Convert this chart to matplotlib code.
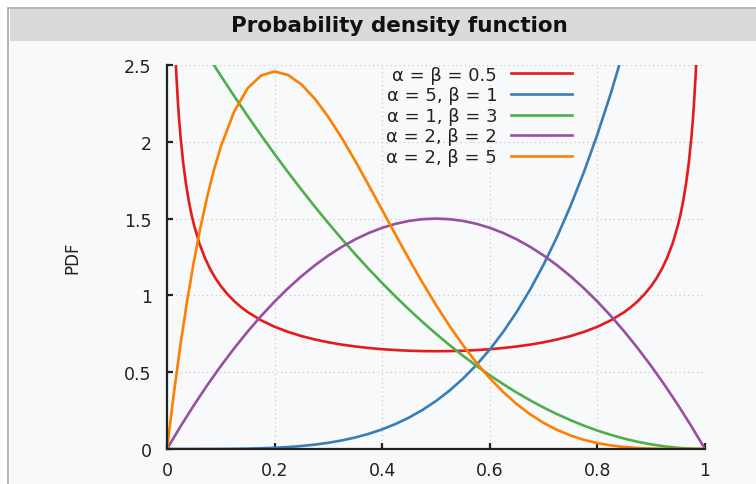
import matplotlib
matplotlib.use("Agg")
import matplotlib.pyplot as plt
from matplotlib.patches import Rectangle

# values (Beta pdf curves)
x_grid = [0, 0.025, 0.05, 0.075, 0.1, 0.125, 0.15, 0.175, 0.2, 0.225, 0.25,
          0.275, 0.3, 0.325, 0.35, 0.375, 0.4, 0.425, 0.45, 0.475, 0.5,
          0.525, 0.55, 0.575, 0.6, 0.625, 0.65, 0.675, 0.7, 0.725, 0.75,
          0.775, 0.8, 0.825, 0.85, 0.875, 0.9, 0.925, 0.95, 0.975, 1]

x_red = [0.015, 0.0175, 0.02, 0.0225, 0.025, 0.03, 0.035, 0.04, 0.045, 0.05,
         0.06, 0.07, 0.08, 0.09, 0.1, 0.1125, 0.125, 0.1375, 0.15, 0.175,
         0.2, 0.225, 0.25, 0.275, 0.3, 0.325, 0.35, 0.375, 0.4, 0.425, 0.45,
         0.475, 0.5, 0.525, 0.55, 0.575, 0.6, 0.625, 0.65, 0.675, 0.7, 0.725,
         0.75, 0.775, 0.8, 0.825, 0.85, 0.8625, 0.875, 0.8875, 0.9, 0.91,
         0.92, 0.93, 0.94, 0.95, 0.955, 0.96, 0.965, 0.97, 0.975, 0.9775,
         0.98, 0.9825, 0.985]
y_red = [2.6187, 2.4275, 2.2736, 2.1463, 2.0388, 1.8660, 1.7320, 1.6244,
         1.5355, 1.4605, 1.3403, 1.2476, 1.1733, 1.1123, 1.0610, 1.0074,
         0.9625, 0.9243, 0.8915, 0.8377, 0.7958, 0.7623, 0.7351, 0.7129,
         0.6946, 0.6796, 0.6674, 0.6575, 0.6497, 0.6439, 0.6398, 0.6374,
         0.6366, 0.6374, 0.6398, 0.6439, 0.6497, 0.6575, 0.6674, 0.6796,
         0.6946, 0.7129, 0.7351, 0.7623, 0.7958, 0.8377, 0.8915, 0.9243,
         0.9625, 1.0074, 1.0610, 1.1123, 1.1733, 1.2476, 1.3403, 1.4605,
         1.5355, 1.6244, 1.7320, 1.8660, 2.0388, 2.1463, 2.2736, 2.4275,
         2.6187]

y_blue = [0, 0.000002, 0.00003, 0.00016, 0.0005, 0.00122, 0.00253, 0.00469,
          0.008, 0.01282, 0.01953, 0.0286, 0.0405, 0.0558, 0.0750, 0.0989,
          0.128, 0.1631, 0.2050, 0.2545, 0.3125, 0.3798, 0.4575, 0.5466,
          0.648, 0.7629, 0.8925, 1.0380, 1.2005, 1.3814, 1.5820, 1.8038,
          2.048, 2.3162, 2.6100, 2.9309]

y_green = [3, 2.8519, 2.7075, 2.5669, 2.43, 2.2969, 2.1675, 2.0419, 1.92,
           1.8019, 1.6875, 1.5769, 1.47, 1.3669, 1.2675, 1.1719, 1.08, 0.9919,
           0.9075, 0.8269, 0.75, 0.6769, 0.6075, 0.5419, 0.48, 0.4219, 0.3675,
           0.3169, 0.27, 0.2269, 0.1875, 0.1519, 0.12, 0.0919, 0.0675, 0.0469,
           0.03, 0.0169, 0.0075, 0.0019, 0]

y_purple = [0, 0.14625, 0.285, 0.41625, 0.54, 0.65625, 0.765, 0.86625, 0.96,
            1.04625, 1.125, 1.19625, 1.26, 1.31625, 1.365, 1.40625, 1.44,
            1.46625, 1.485, 1.49625, 1.5, 1.49625, 1.485, 1.46625, 1.44,
            1.40625, 1.365, 1.31625, 1.26, 1.19625, 1.125, 1.04625, 0.96,
            0.86625, 0.765, 0.65625, 0.54, 0.41625, 0.285, 0.14625, 0]

x_orange = [0, 0.0125, 0.025, 0.0375, 0.05, 0.0625, 0.075, 0.0875] + x_grid[4:]
y_orange = [0, 0.3566, 0.6778, 0.9655, 1.2218, 1.4484, 1.6472, 1.8200,
            1.9683, 2.1982, 2.3490, 2.4321, 2.4576, 2.4351, 2.3730, 2.2793,
            2.1609, 2.0240, 1.8743, 1.7166, 1.5552, 1.3937, 1.2353, 1.0826,
            0.9375, 0.8018, 0.6766, 0.5628, 0.4608, 0.3708, 0.2926, 0.2259,
            0.1701, 0.1244, 0.0879, 0.0596, 0.0384, 0.0232, 0.0129, 0.0064,
            0.0027, 0.0009, 0.0002, 0.00001, 0]

labels = ["α = β = 0.5", "α = 5, β = 1", "α = 1, β = 3",
          "α = 2, β = 2", "α = 2, β = 5"]
colors = ["#e41a1c", "#377eb8", "#4daf4a", "#984ea3", "#ff7f00"]

W, H = 756, 485
fig = plt.figure(figsize=(W / 100, H / 100), dpi=100)
fig.patch.set_facecolor("white")


def px_rect(x0, y0, x1, y1, **kw):
    # rectangle given in picture pixels (top-left origin)
    return Rectangle((x0 / W, 1 - y1 / H), (x1 - x0) / W, (y1 - y0) / H,
                     transform=fig.transFigure, zorder=-5, **kw)


fig.patches.append(px_rect(7.5, 8.5, W + 5, H + 5, facecolor="white",
                           edgecolor="#a2a9b1", linewidth=1.2))
fig.patches.append(px_rect(10, 10, W + 5, 42, facecolor="#dadada", edgecolor="none"))
fig.patches.append(px_rect(10, 42, W + 5, H + 5, facecolor="#f8f9fa", edgecolor="none"))

fig.text(399 / W, 1 - 26 / H, "Probability density function", ha="center",
         va="center", fontsize=15.5, fontweight="bold", color="#111111")
fig.text(72 / W, 1 - 258 / H, "PDF", rotation=90, ha="center", va="center",
         fontsize=12, color="#222222")

ax = fig.add_axes([167 / W, 1 - 450 / H, (705 - 167) / W, (450 - 66) / H])
ax.set_facecolor("none")
ax.set_zorder(2)

series = [(x_red, y_red), (x_grid[:len(y_blue)], y_blue), (x_grid, y_green),
          (x_grid, y_purple), (x_orange, y_orange)]
for (xs, ys), c, lab in zip(series, colors, labels):
    ax.plot(xs, ys, color=c, lw=1.9, label=lab, solid_joinstyle="round")

ax.set_xlim(0, 1)
ax.set_ylim(0, 2.5)
ax.set_xticks([0, 0.2, 0.4, 0.6, 0.8, 1])
ax.set_xticklabels(["0", "0.2", "0.4", "0.6", "0.8", "1"])
ax.set_yticks([0, 0.5, 1, 1.5, 2, 2.5])
ax.set_yticklabels(["0", "0.5", "1", "1.5", "2", "2.5"])
ax.grid(True, linestyle=(0, (1, 2.5)), color="#cacaca", linewidth=0.9)
ax.set_axisbelow(True)
for s in ["top", "right"]:
    ax.spines[s].set_visible(False)
for s in ["left", "bottom"]:
    ax.spines[s].set_linewidth(1.6)
    ax.spines[s].set_color("#222222")
ax.tick_params(direction="in", length=4, width=1.6, color="#222222",
               labelsize=12.5, labelcolor="#222222")
ax.tick_params(axis="x", pad=9)
ax.tick_params(axis="y", pad=11)

leg = ax.legend(loc="upper right", bbox_to_anchor=(0.753, 0.998), frameon=False,
                markerfirst=False, fontsize=13, handlelength=3.4,
                handletextpad=0.75, labelspacing=0.14, borderpad=0,
                borderaxespad=0)
for t in leg.get_texts():
    t.set_color("#222222")

fig.savefig("out.png", dpi=100)
